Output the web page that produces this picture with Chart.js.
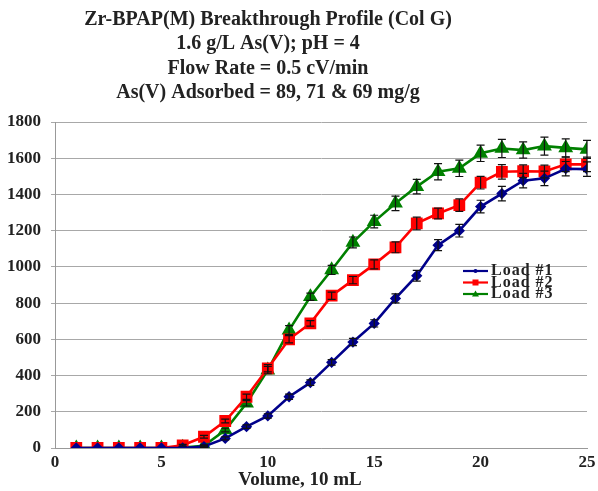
<!DOCTYPE html>
<html>
<head>
<meta charset="utf-8">
<script src="https://cdn.jsdelivr.net/npm/chart.js@4.4.1/dist/chart.umd.min.js"></script>
<style>
  html, body { margin: 0; padding: 0; background: #fff; }
  #wrap { width: 598px; height: 491px; }
</style>
</head>
<body>
<div id="wrap"><canvas id="chart" width="598" height="491"></canvas></div>
<script>
const volumes = [1, 2, 3, 4, 5, 6, 7, 8, 9, 10, 11, 12, 13, 14, 15, 16, 17, 18, 19, 20, 21, 22, 23, 24, 25];

const load1 = [0, 0, 0, 0, 0, 0, 8, 53, 118, 177, 283, 361, 473, 585, 688, 826, 951, 1120, 1200, 1333, 1405, 1476, 1489, 1542, 1540];
const load2 = [0, 0, 0, 0, 0, 15, 62, 149, 283, 440, 600, 688, 841, 927, 1014, 1108, 1240, 1295, 1341, 1465, 1525, 1528, 1527, 1566, 1566];
const load3 = [0, 0, 0, 0, 0, 3, 12, 99, 247, 430, 651, 835, 983, 1135, 1250, 1351, 1443, 1525, 1544, 1627, 1654, 1645, 1667, 1657, 1649];

const err1 = [0, 0, 0, 0, 0, 0, 5, 8, 10, 12, 15, 15, 15, 20, 20, 25, 30, 30, 35, 35, 40, 40, 40, 40, 40];
const err2 = [0, 0, 0, 0, 0, 5, 8, 10, 15, 20, 20, 15, 20, 20, 25, 30, 35, 30, 35, 35, 40, 35, 35, 40, 40];
const err3 = [0, 0, 0, 0, 0, 0, 5, 10, 15, 20, 25, 20, 25, 30, 35, 40, 40, 45, 45, 45, 50, 45, 50, 50, 50];

const titleLines = [
    'Zr-BPAP(M) Breakthrough Profile (Col G)',
    '1.6 g/L As(V); pH = 4',
    'Flow Rate = 0.5 cV/min',
    'As(V) Adsorbed = 89, 71 & 69 mg/g'
];
const xTitle = 'Volume, 10 mL';
const seriesNames = ['Load #1', 'Load #2', 'Load #3'];
const seriesColors = ['#00008b', '#ff0000', '#008000'];

const serif = "'Liberation Serif', 'Times New Roman', serif";

function pts(vals) {
    return volumes.map((v, i) => ({ x: v, y: vals[i] }));
}

// vertical error bars with caps, drawn through the chart scales
const errorBars = {
    id: 'errorBars',
    afterDatasetsDraw(chart) {
        const errs = [err1, err2, err3];
        const ctx = chart.ctx;
        const xs = chart.scales.x, ys = chart.scales.y;
        ctx.save();
        ctx.strokeStyle = '#111';
        ctx.lineWidth = 1.2;
        chart.data.datasets.forEach((ds, di) => {
            ds.data.forEach((p, i) => {
                const e = errs[di][i];
                if (!e) return;
                const px = xs.getPixelForValue(p.x);
                const top = ys.getPixelForValue(p.y + e);
                const bot = ys.getPixelForValue(p.y - e);
                ctx.beginPath();
                ctx.moveTo(px, top); ctx.lineTo(px, bot);
                ctx.moveTo(px - 4, top); ctx.lineTo(px + 4, top);
                ctx.moveTo(px - 4, bot); ctx.lineTo(px + 4, bot);
                ctx.stroke();
            });
        });
        ctx.restore();
    }
};

// titles placed like the original (off-centre), plus the small inside legend
const texts = {
    id: 'texts',
    afterDraw(chart) {
        const ctx = chart.ctx;
        ctx.save();
        ctx.fillStyle = '#222';
        ctx.textAlign = 'center';
        ctx.textBaseline = 'middle';
        ctx.font = 'bold 20px ' + serif;
        titleLines.forEach((t, i) => ctx.fillText(t, 268, 20 + i * 24.3));
        ctx.font = 'bold 19px ' + serif;
        ctx.fillText(xTitle, 300, 480);

        chart.data.datasets.forEach((ds, i) => {
            const y = 271 + i * 11.5;
            ctx.strokeStyle = ds.borderColor;
            ctx.fillStyle = ds.borderColor;
            ctx.lineWidth = 2.2;
            ctx.beginPath();
            ctx.moveTo(463, y); ctx.lineTo(488, y);
            ctx.stroke();
            if (i === 0) {
                ctx.beginPath(); ctx.arc(475.5, y, 2, 0, Math.PI * 2); ctx.fill();
            } else if (i === 1) {
                ctx.fillRect(472.5, y - 3, 6, 6);
            } else {
                ctx.beginPath();
                ctx.moveTo(475.5, y - 3.5); ctx.lineTo(479, y + 2.5); ctx.lineTo(472, y + 2.5);
                ctx.closePath(); ctx.fill();
            }
            ctx.fillStyle = '#222';
            ctx.textAlign = 'left';
            ctx.font = 'bold 16px ' + serif;
            ctx.letterSpacing = '1px';
            ctx.fillText(ds.label, 491, y);
            ctx.letterSpacing = '0px';
        });
        ctx.restore();
    }
};

new Chart(document.getElementById('chart').getContext('2d'), {
    type: 'line',
    data: {
        datasets: [
            {
                label: seriesNames[0], data: pts(load1),
                borderColor: seriesColors[0], backgroundColor: seriesColors[0],
                borderWidth: 2.6, pointStyle: 'rectRot', pointRadius: 3.8, tension: 0
            },
            {
                label: seriesNames[1], data: pts(load2),
                borderColor: seriesColors[1], backgroundColor: seriesColors[1],
                borderWidth: 2.6, pointStyle: 'rect', pointRadius: 6.5, tension: 0
            },
            {
                label: seriesNames[2], data: pts(load3),
                borderColor: seriesColors[2], backgroundColor: seriesColors[2],
                borderWidth: 2.6, pointStyle: 'triangle', pointRadius: 6, tension: 0
            }
        ]
    },
    options: {
        responsive: false,
        animation: false,
        layout: { padding: { left: 0, right: 11, top: 122, bottom: 0 } },
        plugins: {
            legend: { display: false },
            tooltip: { enabled: false },
            title: { display: false }
        },
        scales: {
            x: {
                type: 'linear',
                min: 0, max: 25,
                afterFit(s) { s.height = 43; },
                ticks: {
                    stepSize: 5, color: '#222', padding: -1,
                    font: { family: serif, size: 17, weight: 'bold' }
                },
                grid: { display: false, drawTicks: true, tickLength: 5, color: '#999' },
                border: { display: true, color: '#999', width: 1 }
            },
            y: {
                min: 0, max: 1800,
                afterFit(s) { s.width = 55; },
                ticks: {
                    stepSize: 200, color: '#222', padding: 10,
                    font: { family: serif, size: 17, weight: 'bold' },
                    callback: v => String(v)
                },
                grid: { color: '#a8a8a8', lineWidth: 1, tickLength: 4 },
                border: { display: true, color: '#999', width: 1 }
            }
        }
    },
    plugins: [errorBars, texts]
});
</script>
</body>
</html>
